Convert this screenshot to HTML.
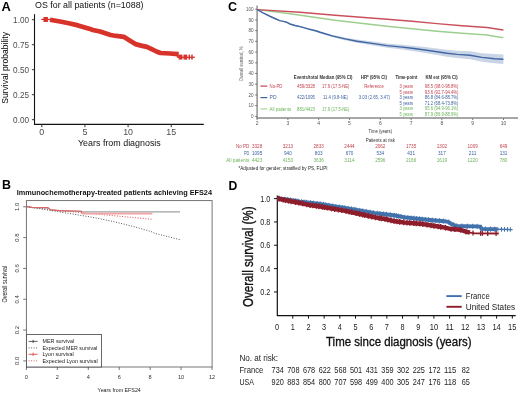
<!DOCTYPE html>
<html><head><meta charset="utf-8"><style>
html,body{margin:0;padding:0;background:#fff;}
body{width:520px;height:393px;overflow:hidden;}
svg{display:block;font-family:"Liberation Sans", sans-serif;will-change:transform;}
</style></head><body>
<svg width="520" height="393" viewBox="0 0 520 393">
<rect width="520" height="393" fill="#fff"/>
<g id="A">
<text x="1.60" y="10.80" font-size="12.9" fill="#000" font-weight="bold" >A</text>
<text x="35.10" y="7.90" font-size="8.9" fill="#111" textLength="108.40" lengthAdjust="spacingAndGlyphs" >OS for all patients (n=1088)</text>
<line x1="34.50" y1="14.20" x2="34.50" y2="124.90" stroke="#111" stroke-width="1.1" />
<line x1="34.00" y1="124.30" x2="203.80" y2="124.30" stroke="#111" stroke-width="1.2" />
<line x1="31.90" y1="19.70" x2="34.50" y2="19.70" stroke="#333" stroke-width="1" />
<text x="29.10" y="22.80" font-size="8.9" fill="#4d4d4d" text-anchor="end" textLength="16.00" lengthAdjust="spacingAndGlyphs" >1.00</text>
<line x1="31.90" y1="44.70" x2="34.50" y2="44.70" stroke="#333" stroke-width="1" />
<text x="29.10" y="47.80" font-size="8.9" fill="#4d4d4d" text-anchor="end" textLength="16.00" lengthAdjust="spacingAndGlyphs" >0.75</text>
<line x1="31.90" y1="69.70" x2="34.50" y2="69.70" stroke="#333" stroke-width="1" />
<text x="29.10" y="72.80" font-size="8.9" fill="#4d4d4d" text-anchor="end" textLength="16.00" lengthAdjust="spacingAndGlyphs" >0.50</text>
<line x1="31.90" y1="94.70" x2="34.50" y2="94.70" stroke="#333" stroke-width="1" />
<text x="29.10" y="97.80" font-size="8.9" fill="#4d4d4d" text-anchor="end" textLength="16.00" lengthAdjust="spacingAndGlyphs" >0.25</text>
<line x1="31.90" y1="119.70" x2="34.50" y2="119.70" stroke="#333" stroke-width="1" />
<text x="29.10" y="122.80" font-size="8.9" fill="#4d4d4d" text-anchor="end" textLength="16.00" lengthAdjust="spacingAndGlyphs" >0.00</text>
<line x1="41.80" y1="124.30" x2="41.80" y2="127.20" stroke="#333" stroke-width="1" />
<text x="41.80" y="135.40" font-size="8.9" fill="#4d4d4d" text-anchor="middle" >0</text>
<line x1="84.95" y1="124.30" x2="84.95" y2="127.20" stroke="#333" stroke-width="1" />
<text x="84.95" y="135.40" font-size="8.9" fill="#4d4d4d" text-anchor="middle" >5</text>
<line x1="128.10" y1="124.30" x2="128.10" y2="127.20" stroke="#333" stroke-width="1" />
<text x="128.10" y="135.40" font-size="8.9" fill="#4d4d4d" text-anchor="middle" >10</text>
<line x1="171.25" y1="124.30" x2="171.25" y2="127.20" stroke="#333" stroke-width="1" />
<text x="171.25" y="135.40" font-size="8.9" fill="#4d4d4d" text-anchor="middle" >15</text>
<text x="78.00" y="146.30" font-size="9.3" fill="#111" textLength="82.80" lengthAdjust="spacingAndGlyphs" >Years from diagnosis</text>
<text x="8.30" y="103.70" font-size="8.9" fill="#000" textLength="71.60" lengthAdjust="spacingAndGlyphs" transform="rotate(-90 8.30 103.70)" >Survival probability</text>
<polyline points="50.00,19.70 60.00,21.50 70.00,23.50 78.00,25.40 91.80,29.60 92.80,30.00 100.00,31.50 110.60,35.00 113.50,35.50 120.00,36.30 123.80,36.80 129.60,40.40 135.40,44.10 141.20,45.60 146.90,46.90 152.70,49.60 156.50,51.50 160.40,53.00 170.00,53.50 177.80,54.20" fill="none" stroke="#d8332b" stroke-width="4.7" stroke-linejoin="round"/>
<line x1="41.30" y1="19.40" x2="50.00" y2="19.40" stroke="#d8332b" stroke-width="1.3" />
<rect x="43.5" y="17.0" width="4.4" height="5.0" fill="#d8332b"/>
<line x1="177.80" y1="57.30" x2="194.80" y2="57.30" stroke="#d8332b" stroke-width="1.3" />
<rect x="176.8" y="51.8" width="2.0" height="5.8" fill="#d8332b"/>
<rect x="178.6" y="54.6" width="3.80" height="5.0" fill="#d8332b"/>
<rect x="183.5" y="54.6" width="3.70" height="5.0" fill="#d8332b"/>
<rect x="188.55" y="54.6" width="1.5" height="5.0" fill="#d8332b"/>
<rect x="191.25" y="54.6" width="1.5" height="5.0" fill="#d8332b"/>
</g>
<g id="C">
<text x="227.90" y="10.90" font-size="12.5" fill="#000" font-weight="bold" >C</text>
<line x1="257.10" y1="5.60" x2="257.10" y2="118.60" stroke="#8a8a8a" stroke-width="1.4" />
<line x1="256.40" y1="118.00" x2="518.00" y2="118.00" stroke="#8a8a8a" stroke-width="1.6" />
<line x1="255.20" y1="116.40" x2="257.00" y2="116.40" stroke="#555" stroke-width="0.8" />
<text x="253.60" y="118.00" font-size="4.6" fill="#555" text-anchor="end" >0</text>
<line x1="255.20" y1="105.68" x2="257.00" y2="105.68" stroke="#555" stroke-width="0.8" />
<text x="253.60" y="107.28" font-size="4.6" fill="#555" text-anchor="end" >10</text>
<line x1="255.20" y1="94.96" x2="257.00" y2="94.96" stroke="#555" stroke-width="0.8" />
<text x="253.60" y="96.56" font-size="4.6" fill="#555" text-anchor="end" >20</text>
<line x1="255.20" y1="84.24" x2="257.00" y2="84.24" stroke="#555" stroke-width="0.8" />
<text x="253.60" y="85.84" font-size="4.6" fill="#555" text-anchor="end" >30</text>
<line x1="255.20" y1="73.52" x2="257.00" y2="73.52" stroke="#555" stroke-width="0.8" />
<text x="253.60" y="75.12" font-size="4.6" fill="#555" text-anchor="end" >40</text>
<line x1="255.20" y1="62.80" x2="257.00" y2="62.80" stroke="#555" stroke-width="0.8" />
<text x="253.60" y="64.40" font-size="4.6" fill="#555" text-anchor="end" >50</text>
<line x1="255.20" y1="52.08" x2="257.00" y2="52.08" stroke="#555" stroke-width="0.8" />
<text x="253.60" y="53.68" font-size="4.6" fill="#555" text-anchor="end" >60</text>
<line x1="255.20" y1="41.36" x2="257.00" y2="41.36" stroke="#555" stroke-width="0.8" />
<text x="253.60" y="42.96" font-size="4.6" fill="#555" text-anchor="end" >70</text>
<line x1="255.20" y1="30.64" x2="257.00" y2="30.64" stroke="#555" stroke-width="0.8" />
<text x="253.60" y="32.24" font-size="4.6" fill="#555" text-anchor="end" >80</text>
<line x1="255.20" y1="19.92" x2="257.00" y2="19.92" stroke="#555" stroke-width="0.8" />
<text x="253.60" y="21.52" font-size="4.6" fill="#555" text-anchor="end" >90</text>
<line x1="255.20" y1="9.20" x2="257.00" y2="9.20" stroke="#555" stroke-width="0.8" />
<text x="253.60" y="10.80" font-size="4.6" fill="#555" text-anchor="end" >100</text>
<line x1="257.10" y1="118.60" x2="257.10" y2="119.80" stroke="#444" stroke-width="0.9" />
<text x="257.10" y="125.40" font-size="5.0" fill="#555" text-anchor="middle" >2</text>
<line x1="287.90" y1="118.60" x2="287.90" y2="119.80" stroke="#444" stroke-width="0.9" />
<text x="287.90" y="125.40" font-size="5.0" fill="#555" text-anchor="middle" >3</text>
<line x1="318.70" y1="118.60" x2="318.70" y2="119.80" stroke="#444" stroke-width="0.9" />
<text x="318.70" y="125.40" font-size="5.0" fill="#555" text-anchor="middle" >4</text>
<line x1="349.50" y1="118.60" x2="349.50" y2="119.80" stroke="#444" stroke-width="0.9" />
<text x="349.50" y="125.40" font-size="5.0" fill="#555" text-anchor="middle" >5</text>
<line x1="380.30" y1="118.60" x2="380.30" y2="119.80" stroke="#444" stroke-width="0.9" />
<text x="380.30" y="125.40" font-size="5.0" fill="#555" text-anchor="middle" >6</text>
<line x1="411.10" y1="118.60" x2="411.10" y2="119.80" stroke="#444" stroke-width="0.9" />
<text x="411.10" y="125.40" font-size="5.0" fill="#555" text-anchor="middle" >7</text>
<line x1="441.90" y1="118.60" x2="441.90" y2="119.80" stroke="#444" stroke-width="0.9" />
<text x="441.90" y="125.40" font-size="5.0" fill="#555" text-anchor="middle" >8</text>
<line x1="472.70" y1="118.60" x2="472.70" y2="119.80" stroke="#444" stroke-width="0.9" />
<text x="472.70" y="125.40" font-size="5.0" fill="#555" text-anchor="middle" >9</text>
<line x1="503.50" y1="118.60" x2="503.50" y2="119.80" stroke="#444" stroke-width="0.9" />
<text x="503.50" y="125.40" font-size="5.0" fill="#555" text-anchor="middle" >10</text>
<text x="242.90" y="63.80" font-size="5.6" fill="#555" text-anchor="middle" textLength="34.60" lengthAdjust="spacingAndGlyphs" transform="rotate(-90 242.90 63.80)" >Overall survival, %</text>
<text x="380.30" y="133.00" font-size="5.4" fill="#333" text-anchor="middle" textLength="23.50" lengthAdjust="spacingAndGlyphs" >Time (years)</text>
<text x="380.30" y="141.70" font-size="5.4" fill="#333" text-anchor="middle" textLength="29.20" lengthAdjust="spacingAndGlyphs" >Patients at risk</text>
<path d="M257.30,9.30 L263.00,12.48 L270.40,16.12 L276.00,18.58 L279.60,20.14 L283.50,20.90 L286.50,21.67 L290.00,23.43 L295.00,24.87 L301.20,26.19 L307.00,27.82 L316.50,30.08 L320.00,31.23 L332.00,34.75 L345.00,37.53 L357.00,39.62 L372.00,41.55 L387.00,43.46 L400.00,44.49 L412.00,45.64 L425.00,47.06 L437.00,48.49 L447.00,49.87 L457.00,50.73 L470.00,51.22 L482.00,53.13 L494.50,54.12 L503.40,54.39 L503.40,64.01 L494.50,63.28 L482.00,61.67 L470.00,59.18 L457.00,58.07 L447.00,56.73 L437.00,54.91 L425.00,52.94 L412.00,50.96 L400.00,49.31 L387.00,47.74 L372.00,45.25 L357.00,42.78 L345.00,40.27 L332.00,37.05 L320.00,33.17 L316.50,31.92 L307.00,29.38 L301.20,27.61 L295.00,26.13 L290.00,24.57 L286.50,22.73 L283.50,21.90 L279.60,21.06 L276.00,19.42 L270.40,16.88 L263.00,13.12 L257.30,9.90 Z" fill="#c9d5e6" stroke="none"/>
<polyline points="257.30,9.60 290.00,13.80 335.00,20.20 387.00,26.30 412.00,28.80 437.00,31.20 462.00,33.20 487.00,35.00 500.00,37.20 503.40,37.50" fill="none" stroke="#9ccf8d" stroke-width="1.45" />
<polyline points="257.30,9.60 300.00,12.30 335.00,15.30 387.00,19.30 412.00,21.30 437.00,23.60 462.00,25.70 487.00,27.50 500.00,29.50 503.40,30.00" fill="none" stroke="#c9505b" stroke-width="1.45" />
<polyline points="257.30,9.60 263.00,12.80 270.40,16.50 276.00,19.00 279.60,20.60 283.50,21.40 286.50,22.20 290.00,24.00 295.00,25.50 301.20,26.90 307.00,28.60 316.50,31.00 320.00,32.20 332.00,35.90 345.00,38.90 357.00,41.20 372.00,43.40 387.00,45.60 400.00,46.90 412.00,48.30 425.00,50.00 437.00,51.70 447.00,53.30 457.00,54.40 470.00,55.20 482.00,57.40 494.50,58.70 503.40,59.20" fill="none" stroke="#4166a2" stroke-width="1.45" />
<text x="293.80" y="79.40" font-size="4.7" fill="#333" font-weight="bold" textLength="24.20" lengthAdjust="spacingAndGlyphs" >Events/total</text>
<text x="319.50" y="79.40" font-size="4.7" fill="#333" font-weight="bold" textLength="33.00" lengthAdjust="spacingAndGlyphs" >Median (95% CI)</text>
<text x="360.80" y="79.40" font-size="4.7" fill="#333" font-weight="bold" textLength="26.20" lengthAdjust="spacingAndGlyphs" >HR* (95% CI)</text>
<text x="395.40" y="79.40" font-size="4.7" fill="#333" font-weight="bold" textLength="22.00" lengthAdjust="spacingAndGlyphs" >Time-point</text>
<text x="425.40" y="79.40" font-size="4.7" fill="#333" font-weight="bold" textLength="32.40" lengthAdjust="spacingAndGlyphs" >KM est (95% CI)</text>
<line x1="260.40" y1="86.10" x2="267.30" y2="86.10" stroke="#c1444f" stroke-width="1.2" />
<text x="269.60" y="87.70" font-size="4.7" fill="#c1444f" textLength="12.80" lengthAdjust="spacingAndGlyphs" >No-PD</text>
<text x="297.00" y="87.70" font-size="4.7" fill="#c1444f" textLength="18.00" lengthAdjust="spacingAndGlyphs" >459/3328</text>
<text x="322.00" y="87.70" font-size="4.7" fill="#c1444f" textLength="27.50" lengthAdjust="spacingAndGlyphs" >17.9 (17.5-NE)</text>
<text x="364.30" y="87.70" font-size="4.7" fill="#c1444f" textLength="19.50" lengthAdjust="spacingAndGlyphs" >Reference</text>
<text x="399.50" y="87.80" font-size="4.7" fill="#c1444f" textLength="13.60" lengthAdjust="spacingAndGlyphs" >3 years</text>
<text x="424.80" y="87.80" font-size="4.7" fill="#c1444f" textLength="33.70" lengthAdjust="spacingAndGlyphs" >98.5 (98.0-98.8%)</text>
<text x="399.50" y="93.60" font-size="4.7" fill="#c1444f" textLength="13.60" lengthAdjust="spacingAndGlyphs" >5 years</text>
<text x="424.80" y="93.60" font-size="4.7" fill="#c1444f" textLength="33.70" lengthAdjust="spacingAndGlyphs" >93.6 (92.7-94.4%)</text>
<line x1="260.40" y1="97.60" x2="267.30" y2="97.60" stroke="#3c64a0" stroke-width="1.2" />
<text x="269.60" y="99.20" font-size="4.7" fill="#3c64a0" textLength="6.90" lengthAdjust="spacingAndGlyphs" >PD</text>
<text x="297.00" y="99.20" font-size="4.7" fill="#3c64a0" textLength="18.00" lengthAdjust="spacingAndGlyphs" >422/1095</text>
<text x="323.00" y="99.20" font-size="4.7" fill="#3c64a0" textLength="25.00" lengthAdjust="spacingAndGlyphs" >11.4 (9.8-NE)</text>
<text x="358.80" y="99.20" font-size="4.7" fill="#3c64a0" textLength="31.20" lengthAdjust="spacingAndGlyphs" >3.03 (2.65, 3.47)</text>
<text x="399.50" y="99.30" font-size="4.7" fill="#3c64a0" textLength="13.60" lengthAdjust="spacingAndGlyphs" >3 years</text>
<text x="424.80" y="99.30" font-size="4.7" fill="#3c64a0" textLength="33.70" lengthAdjust="spacingAndGlyphs" >86.8 (84.6-88.7%)</text>
<text x="399.50" y="104.70" font-size="4.7" fill="#3c64a0" textLength="13.60" lengthAdjust="spacingAndGlyphs" >5 years</text>
<text x="424.80" y="104.70" font-size="4.7" fill="#3c64a0" textLength="33.70" lengthAdjust="spacingAndGlyphs" >71.2 (68.4-73.8%)</text>
<line x1="260.40" y1="108.90" x2="267.30" y2="108.90" stroke="#a8d898" stroke-width="1.2" />
<text x="269.60" y="110.50" font-size="4.7" fill="#6cb45a" textLength="21.60" lengthAdjust="spacingAndGlyphs" >All patients</text>
<text x="297.00" y="110.50" font-size="4.7" fill="#6cb45a" textLength="18.00" lengthAdjust="spacingAndGlyphs" >881/4423</text>
<text x="322.00" y="110.50" font-size="4.7" fill="#6cb45a" textLength="27.50" lengthAdjust="spacingAndGlyphs" >17.9 (17.5-NE)</text>
<text x="399.50" y="110.10" font-size="4.7" fill="#6cb45a" textLength="13.60" lengthAdjust="spacingAndGlyphs" >3 years</text>
<text x="424.80" y="110.10" font-size="4.7" fill="#6cb45a" textLength="33.70" lengthAdjust="spacingAndGlyphs" >95.6 (94.9-96.1%)</text>
<text x="399.50" y="115.90" font-size="4.7" fill="#6cb45a" textLength="13.60" lengthAdjust="spacingAndGlyphs" >5 years</text>
<text x="424.80" y="115.90" font-size="4.7" fill="#6cb45a" textLength="33.70" lengthAdjust="spacingAndGlyphs" >87.9 (86.9-88.9%)</text>
<text x="249.40" y="147.90" font-size="5.0" fill="#c1444f" text-anchor="end" textLength="13.40" lengthAdjust="spacingAndGlyphs" >No PD</text>
<text x="257.10" y="147.90" font-size="5.0" fill="#c1444f" text-anchor="middle" textLength="10.32" lengthAdjust="spacingAndGlyphs" >3328</text>
<text x="287.90" y="147.90" font-size="5.0" fill="#c1444f" text-anchor="middle" textLength="10.32" lengthAdjust="spacingAndGlyphs" >3213</text>
<text x="318.70" y="147.90" font-size="5.0" fill="#c1444f" text-anchor="middle" textLength="10.32" lengthAdjust="spacingAndGlyphs" >2833</text>
<text x="349.50" y="147.90" font-size="5.0" fill="#c1444f" text-anchor="middle" textLength="10.32" lengthAdjust="spacingAndGlyphs" >2444</text>
<text x="380.30" y="147.90" font-size="5.0" fill="#c1444f" text-anchor="middle" textLength="10.32" lengthAdjust="spacingAndGlyphs" >2062</text>
<text x="411.10" y="147.90" font-size="5.0" fill="#c1444f" text-anchor="middle" textLength="10.32" lengthAdjust="spacingAndGlyphs" >1735</text>
<text x="441.90" y="147.90" font-size="5.0" fill="#c1444f" text-anchor="middle" textLength="10.32" lengthAdjust="spacingAndGlyphs" >1302</text>
<text x="472.70" y="147.90" font-size="5.0" fill="#c1444f" text-anchor="middle" textLength="10.32" lengthAdjust="spacingAndGlyphs" >1009</text>
<text x="503.50" y="147.90" font-size="5.0" fill="#c1444f" text-anchor="middle" textLength="7.74" lengthAdjust="spacingAndGlyphs" >649</text>
<text x="249.40" y="155.00" font-size="5.0" fill="#3c64a0" text-anchor="end" textLength="5.40" lengthAdjust="spacingAndGlyphs" >PD</text>
<text x="257.10" y="155.00" font-size="5.0" fill="#3c64a0" text-anchor="middle" textLength="10.32" lengthAdjust="spacingAndGlyphs" >1095</text>
<text x="287.90" y="155.00" font-size="5.0" fill="#3c64a0" text-anchor="middle" textLength="7.74" lengthAdjust="spacingAndGlyphs" >940</text>
<text x="318.70" y="155.00" font-size="5.0" fill="#3c64a0" text-anchor="middle" textLength="7.74" lengthAdjust="spacingAndGlyphs" >803</text>
<text x="349.50" y="155.00" font-size="5.0" fill="#3c64a0" text-anchor="middle" textLength="7.74" lengthAdjust="spacingAndGlyphs" >670</text>
<text x="380.30" y="155.00" font-size="5.0" fill="#3c64a0" text-anchor="middle" textLength="7.74" lengthAdjust="spacingAndGlyphs" >534</text>
<text x="411.10" y="155.00" font-size="5.0" fill="#3c64a0" text-anchor="middle" textLength="7.74" lengthAdjust="spacingAndGlyphs" >431</text>
<text x="441.90" y="155.00" font-size="5.0" fill="#3c64a0" text-anchor="middle" textLength="7.74" lengthAdjust="spacingAndGlyphs" >317</text>
<text x="472.70" y="155.00" font-size="5.0" fill="#3c64a0" text-anchor="middle" textLength="7.74" lengthAdjust="spacingAndGlyphs" >211</text>
<text x="503.50" y="155.00" font-size="5.0" fill="#3c64a0" text-anchor="middle" textLength="7.74" lengthAdjust="spacingAndGlyphs" >131</text>
<text x="249.40" y="161.90" font-size="5.0" fill="#6cb45a" text-anchor="end" textLength="23.20" lengthAdjust="spacingAndGlyphs" >All patients</text>
<text x="257.10" y="161.90" font-size="5.0" fill="#6cb45a" text-anchor="middle" textLength="10.32" lengthAdjust="spacingAndGlyphs" >4423</text>
<text x="287.90" y="161.90" font-size="5.0" fill="#6cb45a" text-anchor="middle" textLength="10.32" lengthAdjust="spacingAndGlyphs" >4153</text>
<text x="318.70" y="161.90" font-size="5.0" fill="#6cb45a" text-anchor="middle" textLength="10.32" lengthAdjust="spacingAndGlyphs" >3636</text>
<text x="349.50" y="161.90" font-size="5.0" fill="#6cb45a" text-anchor="middle" textLength="10.32" lengthAdjust="spacingAndGlyphs" >3114</text>
<text x="380.30" y="161.90" font-size="5.0" fill="#6cb45a" text-anchor="middle" textLength="10.32" lengthAdjust="spacingAndGlyphs" >2596</text>
<text x="411.10" y="161.90" font-size="5.0" fill="#6cb45a" text-anchor="middle" textLength="10.32" lengthAdjust="spacingAndGlyphs" >2166</text>
<text x="441.90" y="161.90" font-size="5.0" fill="#6cb45a" text-anchor="middle" textLength="10.32" lengthAdjust="spacingAndGlyphs" >1619</text>
<text x="472.70" y="161.90" font-size="5.0" fill="#6cb45a" text-anchor="middle" textLength="10.32" lengthAdjust="spacingAndGlyphs" >1220</text>
<text x="503.50" y="161.90" font-size="5.0" fill="#6cb45a" text-anchor="middle" textLength="7.74" lengthAdjust="spacingAndGlyphs" >780</text>
<text x="238.50" y="169.60" font-size="5.0" fill="#222" textLength="89.10" lengthAdjust="spacingAndGlyphs" >*Adjusted for gender; stratified by PS, FLIPI</text>
</g>
<g id="B">
<text x="2.10" y="189.10" font-size="12.4" fill="#000" font-weight="bold" >B</text>
<text x="16.70" y="194.60" font-size="7.3" fill="#111" font-weight="bold" textLength="195.30" lengthAdjust="spacingAndGlyphs" >Immunochemotherapy-treated patients achieving EFS24</text>
<rect x="26.4" y="200.6" width="185.7" height="166.4" fill="none" stroke="#666" stroke-width="0.9"/>
<line x1="23.20" y1="360.90" x2="26.40" y2="360.90" stroke="#555" stroke-width="0.8" />
<text x="18.90" y="360.90" font-size="6.0" fill="#333" text-anchor="middle" transform="rotate(-90 18.90 360.90)" >0.0</text>
<line x1="23.20" y1="330.08" x2="26.40" y2="330.08" stroke="#555" stroke-width="0.8" />
<text x="18.90" y="330.08" font-size="6.0" fill="#333" text-anchor="middle" transform="rotate(-90 18.90 330.08)" >0.2</text>
<line x1="23.20" y1="299.26" x2="26.40" y2="299.26" stroke="#555" stroke-width="0.8" />
<text x="18.90" y="299.26" font-size="6.0" fill="#333" text-anchor="middle" transform="rotate(-90 18.90 299.26)" >0.4</text>
<line x1="23.20" y1="268.44" x2="26.40" y2="268.44" stroke="#555" stroke-width="0.8" />
<text x="18.90" y="268.44" font-size="6.0" fill="#333" text-anchor="middle" transform="rotate(-90 18.90 268.44)" >0.6</text>
<line x1="23.20" y1="237.62" x2="26.40" y2="237.62" stroke="#555" stroke-width="0.8" />
<text x="18.90" y="237.62" font-size="6.0" fill="#333" text-anchor="middle" transform="rotate(-90 18.90 237.62)" >0.8</text>
<line x1="23.20" y1="206.80" x2="26.40" y2="206.80" stroke="#555" stroke-width="0.8" />
<text x="18.90" y="206.80" font-size="6.0" fill="#333" text-anchor="middle" transform="rotate(-90 18.90 206.80)" >1.0</text>
<line x1="26.40" y1="367.00" x2="26.40" y2="370.00" stroke="#555" stroke-width="0.8" />
<text x="26.40" y="379.00" font-size="5.6" fill="#333" text-anchor="middle" >0</text>
<line x1="57.34" y1="367.00" x2="57.34" y2="370.00" stroke="#555" stroke-width="0.8" />
<text x="57.34" y="379.00" font-size="5.6" fill="#333" text-anchor="middle" >2</text>
<line x1="88.28" y1="367.00" x2="88.28" y2="370.00" stroke="#555" stroke-width="0.8" />
<text x="88.28" y="379.00" font-size="5.6" fill="#333" text-anchor="middle" >4</text>
<line x1="119.22" y1="367.00" x2="119.22" y2="370.00" stroke="#555" stroke-width="0.8" />
<text x="119.22" y="379.00" font-size="5.6" fill="#333" text-anchor="middle" >6</text>
<line x1="150.16" y1="367.00" x2="150.16" y2="370.00" stroke="#555" stroke-width="0.8" />
<text x="150.16" y="379.00" font-size="5.6" fill="#333" text-anchor="middle" >8</text>
<line x1="181.10" y1="367.00" x2="181.10" y2="370.00" stroke="#555" stroke-width="0.8" />
<text x="181.10" y="379.00" font-size="5.6" fill="#333" text-anchor="middle" >10</text>
<line x1="212.04" y1="367.00" x2="212.04" y2="370.00" stroke="#555" stroke-width="0.8" />
<text x="212.04" y="379.00" font-size="5.6" fill="#333" text-anchor="middle" >12</text>
<text x="119.20" y="391.90" font-size="6.0" fill="#222" text-anchor="middle" textLength="43.20" lengthAdjust="spacingAndGlyphs" >Years from EFS24</text>
<text x="7.00" y="284.10" font-size="6.4" fill="#222" text-anchor="middle" textLength="36.80" lengthAdjust="spacingAndGlyphs" transform="rotate(-90 7.00 284.10)" >Overall survival</text>
<polyline points="26.40,206.60 60.00,210.80 100.00,214.40 152.30,219.30" fill="none" stroke="#e04040" stroke-width="0.9" stroke-dasharray="1,1.6"/>
<polyline points="26.40,206.60 62.00,212.30 92.00,217.20 110.00,220.80 130.00,225.60 151.20,231.60 155.40,233.50 179.70,239.60" fill="none" stroke="#444" stroke-width="0.9" stroke-dasharray="1,1.6"/>
<polyline points="26.40,206.60 32.00,207.70 48.00,208.10 50.00,209.90 60.00,210.80 75.00,211.20 81.50,211.30 82.00,211.90" fill="none" stroke="#777" stroke-width="0.8" />
<polyline points="82.00,211.90 180.00,211.90" fill="none" stroke="#a0a0a0" stroke-width="1.2" />
<polyline points="26.40,206.40 32.00,207.30 48.00,207.50 50.50,209.80 60.00,210.60 75.00,211.00 81.50,211.20 82.00,213.60" fill="none" stroke="#e26060" stroke-width="1.1" />
<polyline points="82.00,213.60 152.30,213.60" fill="none" stroke="#f2a3a3" stroke-width="1.7" />
<rect x="26.4" y="334.6" width="75.2" height="32.4" fill="#fff" stroke="#444" stroke-width="0.8"/>
<line x1="28.60" y1="341.40" x2="37.60" y2="341.40" stroke="#333" stroke-width="0.8" />
<line x1="33.10" y1="339.80" x2="33.10" y2="343.00" stroke="#333" stroke-width="0.8" />
<text x="42.50" y="343.40" font-size="5.6" fill="#222" textLength="31.60" lengthAdjust="spacingAndGlyphs" >MER survival</text>
<line x1="28.60" y1="347.90" x2="37.60" y2="347.90" stroke="#333" stroke-width="0.8" stroke-dasharray="1,1.5"/>
<text x="42.50" y="349.90" font-size="5.6" fill="#222" textLength="54.80" lengthAdjust="spacingAndGlyphs" >Expected MER survival</text>
<line x1="28.60" y1="354.30" x2="37.60" y2="354.30" stroke="#e03030" stroke-width="0.8" />
<line x1="33.10" y1="352.70" x2="33.10" y2="355.90" stroke="#e03030" stroke-width="0.8" />
<text x="42.50" y="356.30" font-size="5.6" fill="#222" textLength="31.20" lengthAdjust="spacingAndGlyphs" >Lyon survival</text>
<line x1="28.60" y1="360.80" x2="37.60" y2="360.80" stroke="#e03030" stroke-width="0.8" stroke-dasharray="1,1.5"/>
<text x="42.50" y="362.80" font-size="5.6" fill="#222" textLength="55.20" lengthAdjust="spacingAndGlyphs" >Expected Lyon survival</text>
</g>
<g id="D">
<text x="228.40" y="189.50" font-size="12.2" fill="#000" font-weight="bold" >D</text>
<line x1="277.30" y1="195.40" x2="277.30" y2="316.00" stroke="#111" stroke-width="1.2" />
<line x1="277.00" y1="315.60" x2="515.70" y2="315.60" stroke="#111" stroke-width="1.2" />
<line x1="274.00" y1="291.96" x2="277.30" y2="291.96" stroke="#111" stroke-width="1.0" />
<text x="270.40" y="294.86" font-size="8.4" fill="#222" text-anchor="end" textLength="10.10" lengthAdjust="spacingAndGlyphs" >0.2</text>
<line x1="274.00" y1="268.62" x2="277.30" y2="268.62" stroke="#111" stroke-width="1.0" />
<text x="270.40" y="271.52" font-size="8.4" fill="#222" text-anchor="end" textLength="10.10" lengthAdjust="spacingAndGlyphs" >0.4</text>
<line x1="274.00" y1="245.28" x2="277.30" y2="245.28" stroke="#111" stroke-width="1.0" />
<text x="270.40" y="248.18" font-size="8.4" fill="#222" text-anchor="end" textLength="10.10" lengthAdjust="spacingAndGlyphs" >0.6</text>
<line x1="274.00" y1="221.94" x2="277.30" y2="221.94" stroke="#111" stroke-width="1.0" />
<text x="270.40" y="224.84" font-size="8.4" fill="#222" text-anchor="end" textLength="10.10" lengthAdjust="spacingAndGlyphs" >0.8</text>
<line x1="274.00" y1="198.60" x2="277.30" y2="198.60" stroke="#111" stroke-width="1.0" />
<text x="270.40" y="201.50" font-size="8.4" fill="#222" text-anchor="end" textLength="10.10" lengthAdjust="spacingAndGlyphs" >1.0</text>
<text x="277.10" y="329.70" font-size="8.2" fill="#222" text-anchor="middle" textLength="4.10" lengthAdjust="spacingAndGlyphs" >0</text>
<line x1="292.78" y1="315.40" x2="292.78" y2="318.60" stroke="#111" stroke-width="1.0" />
<text x="292.78" y="329.70" font-size="8.2" fill="#222" text-anchor="middle" textLength="4.10" lengthAdjust="spacingAndGlyphs" >1</text>
<line x1="308.46" y1="315.40" x2="308.46" y2="318.60" stroke="#111" stroke-width="1.0" />
<text x="308.46" y="329.70" font-size="8.2" fill="#222" text-anchor="middle" textLength="4.10" lengthAdjust="spacingAndGlyphs" >2</text>
<line x1="324.14" y1="315.40" x2="324.14" y2="318.60" stroke="#111" stroke-width="1.0" />
<text x="324.14" y="329.70" font-size="8.2" fill="#222" text-anchor="middle" textLength="4.10" lengthAdjust="spacingAndGlyphs" >3</text>
<line x1="339.82" y1="315.40" x2="339.82" y2="318.60" stroke="#111" stroke-width="1.0" />
<text x="339.82" y="329.70" font-size="8.2" fill="#222" text-anchor="middle" textLength="4.10" lengthAdjust="spacingAndGlyphs" >4</text>
<line x1="355.50" y1="315.40" x2="355.50" y2="318.60" stroke="#111" stroke-width="1.0" />
<text x="355.50" y="329.70" font-size="8.2" fill="#222" text-anchor="middle" textLength="4.10" lengthAdjust="spacingAndGlyphs" >5</text>
<line x1="371.18" y1="315.40" x2="371.18" y2="318.60" stroke="#111" stroke-width="1.0" />
<text x="371.18" y="329.70" font-size="8.2" fill="#222" text-anchor="middle" textLength="4.10" lengthAdjust="spacingAndGlyphs" >6</text>
<line x1="386.86" y1="315.40" x2="386.86" y2="318.60" stroke="#111" stroke-width="1.0" />
<text x="386.86" y="329.70" font-size="8.2" fill="#222" text-anchor="middle" textLength="4.10" lengthAdjust="spacingAndGlyphs" >7</text>
<line x1="402.54" y1="315.40" x2="402.54" y2="318.60" stroke="#111" stroke-width="1.0" />
<text x="402.54" y="329.70" font-size="8.2" fill="#222" text-anchor="middle" textLength="4.10" lengthAdjust="spacingAndGlyphs" >8</text>
<line x1="418.22" y1="315.40" x2="418.22" y2="318.60" stroke="#111" stroke-width="1.0" />
<text x="418.22" y="329.70" font-size="8.2" fill="#222" text-anchor="middle" textLength="4.10" lengthAdjust="spacingAndGlyphs" >9</text>
<line x1="433.90" y1="315.40" x2="433.90" y2="318.60" stroke="#111" stroke-width="1.0" />
<text x="433.90" y="329.70" font-size="8.2" fill="#222" text-anchor="middle" textLength="8.40" lengthAdjust="spacingAndGlyphs" >10</text>
<line x1="449.58" y1="315.40" x2="449.58" y2="318.60" stroke="#111" stroke-width="1.0" />
<text x="449.58" y="329.70" font-size="8.2" fill="#222" text-anchor="middle" textLength="8.40" lengthAdjust="spacingAndGlyphs" >11</text>
<line x1="465.26" y1="315.40" x2="465.26" y2="318.60" stroke="#111" stroke-width="1.0" />
<text x="465.26" y="329.70" font-size="8.2" fill="#222" text-anchor="middle" textLength="8.40" lengthAdjust="spacingAndGlyphs" >12</text>
<line x1="480.94" y1="315.40" x2="480.94" y2="318.60" stroke="#111" stroke-width="1.0" />
<text x="480.94" y="329.70" font-size="8.2" fill="#222" text-anchor="middle" textLength="8.40" lengthAdjust="spacingAndGlyphs" >13</text>
<line x1="496.62" y1="315.40" x2="496.62" y2="318.60" stroke="#111" stroke-width="1.0" />
<text x="496.62" y="329.70" font-size="8.2" fill="#222" text-anchor="middle" textLength="8.40" lengthAdjust="spacingAndGlyphs" >14</text>
<line x1="512.30" y1="315.40" x2="512.30" y2="318.60" stroke="#111" stroke-width="1.0" />
<text x="512.30" y="329.70" font-size="8.2" fill="#222" text-anchor="middle" textLength="8.40" lengthAdjust="spacingAndGlyphs" >15</text>
<text x="326.00" y="346.20" font-size="13.3" fill="#111" textLength="145.50" lengthAdjust="spacingAndGlyphs" stroke="#111" stroke-width="0.35">Time since diagnosis (years)</text>
<text x="252.90" y="307.00" font-size="14.6" fill="#111" textLength="100.50" lengthAdjust="spacingAndGlyphs" transform="rotate(-90 252.90 307.00)" stroke="#111" stroke-width="0.35">Overall survival (%)</text>
<polyline points="277.50,198.50 290.00,200.00 300.00,201.60 310.00,202.80 320.00,203.90 335.00,206.50 345.00,208.00 355.00,209.60 375.00,213.10 385.00,214.20 395.00,215.50 405.00,217.40 420.00,219.00 435.00,220.50 445.00,221.30 449.00,222.20 452.00,224.40 456.00,225.90 465.00,226.20 475.00,226.40 480.30,226.60 481.50,228.90 497.00,229.30" fill="none" stroke="#4272ab" stroke-width="3.9" />
<polyline points="497.00,229.30 512.60,229.50" fill="none" stroke="#4272ab" stroke-width="1.6" />
<line x1="279.00" y1="196.08" x2="279.00" y2="201.28" stroke="#4272ab" stroke-width="1.0" />
<line x1="281.48" y1="196.38" x2="281.48" y2="201.58" stroke="#4272ab" stroke-width="1.0" />
<line x1="284.56" y1="196.75" x2="284.56" y2="201.95" stroke="#4272ab" stroke-width="1.0" />
<line x1="287.30" y1="197.08" x2="287.30" y2="202.28" stroke="#4272ab" stroke-width="1.0" />
<line x1="290.51" y1="197.48" x2="290.51" y2="202.68" stroke="#4272ab" stroke-width="1.0" />
<line x1="293.76" y1="198.00" x2="293.76" y2="203.20" stroke="#4272ab" stroke-width="1.0" />
<line x1="295.89" y1="198.34" x2="295.89" y2="203.54" stroke="#4272ab" stroke-width="1.0" />
<line x1="297.92" y1="198.67" x2="297.92" y2="203.87" stroke="#4272ab" stroke-width="1.0" />
<line x1="301.60" y1="199.19" x2="301.60" y2="204.39" stroke="#4272ab" stroke-width="1.0" />
<line x1="304.11" y1="199.49" x2="304.11" y2="204.69" stroke="#4272ab" stroke-width="1.0" />
<line x1="306.58" y1="199.79" x2="306.58" y2="204.99" stroke="#4272ab" stroke-width="1.0" />
<line x1="310.57" y1="200.26" x2="310.57" y2="205.46" stroke="#4272ab" stroke-width="1.0" />
<line x1="313.52" y1="200.59" x2="313.52" y2="205.79" stroke="#4272ab" stroke-width="1.0" />
<line x1="317.19" y1="200.99" x2="317.19" y2="206.19" stroke="#4272ab" stroke-width="1.0" />
<line x1="320.14" y1="201.32" x2="320.14" y2="206.52" stroke="#4272ab" stroke-width="1.0" />
<line x1="323.42" y1="201.89" x2="323.42" y2="207.09" stroke="#4272ab" stroke-width="1.0" />
<line x1="325.72" y1="202.29" x2="325.72" y2="207.49" stroke="#4272ab" stroke-width="1.0" />
<line x1="328.99" y1="202.86" x2="328.99" y2="208.06" stroke="#4272ab" stroke-width="1.0" />
<line x1="332.73" y1="203.51" x2="332.73" y2="208.71" stroke="#4272ab" stroke-width="1.0" />
<line x1="335.77" y1="204.02" x2="335.77" y2="209.22" stroke="#4272ab" stroke-width="1.0" />
<line x1="339.25" y1="204.54" x2="339.25" y2="209.74" stroke="#4272ab" stroke-width="1.0" />
<line x1="342.60" y1="205.04" x2="342.60" y2="210.24" stroke="#4272ab" stroke-width="1.0" />
<line x1="344.73" y1="205.36" x2="344.73" y2="210.56" stroke="#4272ab" stroke-width="1.0" />
<line x1="348.24" y1="205.92" x2="348.24" y2="211.12" stroke="#4272ab" stroke-width="1.0" />
<line x1="351.42" y1="206.43" x2="351.42" y2="211.63" stroke="#4272ab" stroke-width="1.0" />
<line x1="354.03" y1="206.84" x2="354.03" y2="212.04" stroke="#4272ab" stroke-width="1.0" />
<line x1="356.09" y1="207.19" x2="356.09" y2="212.39" stroke="#4272ab" stroke-width="1.0" />
<line x1="359.82" y1="207.84" x2="359.82" y2="213.04" stroke="#4272ab" stroke-width="1.0" />
<line x1="362.77" y1="208.36" x2="362.77" y2="213.56" stroke="#4272ab" stroke-width="1.0" />
<line x1="366.20" y1="208.96" x2="366.20" y2="214.16" stroke="#4272ab" stroke-width="1.0" />
<line x1="369.96" y1="209.62" x2="369.96" y2="214.82" stroke="#4272ab" stroke-width="1.0" />
<line x1="373.39" y1="210.22" x2="373.39" y2="215.42" stroke="#4272ab" stroke-width="1.0" />
<line x1="377.23" y1="210.75" x2="377.23" y2="215.95" stroke="#4272ab" stroke-width="1.0" />
<line x1="380.02" y1="211.05" x2="380.02" y2="216.25" stroke="#4272ab" stroke-width="1.0" />
<line x1="383.62" y1="211.45" x2="383.62" y2="216.65" stroke="#4272ab" stroke-width="1.0" />
<line x1="386.51" y1="211.80" x2="386.51" y2="217.00" stroke="#4272ab" stroke-width="1.0" />
<line x1="390.38" y1="212.30" x2="390.38" y2="217.50" stroke="#4272ab" stroke-width="1.0" />
<line x1="394.14" y1="212.79" x2="394.14" y2="217.99" stroke="#4272ab" stroke-width="1.0" />
<line x1="396.34" y1="213.15" x2="396.34" y2="218.35" stroke="#4272ab" stroke-width="1.0" />
<line x1="398.61" y1="213.59" x2="398.61" y2="218.79" stroke="#4272ab" stroke-width="1.0" />
<line x1="401.04" y1="214.05" x2="401.04" y2="219.25" stroke="#4272ab" stroke-width="1.0" />
<line x1="404.97" y1="214.79" x2="404.97" y2="219.99" stroke="#4272ab" stroke-width="1.0" />
<line x1="407.85" y1="215.10" x2="407.85" y2="220.30" stroke="#4272ab" stroke-width="1.0" />
<line x1="411.10" y1="215.45" x2="411.10" y2="220.65" stroke="#4272ab" stroke-width="1.0" />
<line x1="413.70" y1="215.73" x2="413.70" y2="220.93" stroke="#4272ab" stroke-width="1.0" />
<line x1="416.71" y1="216.05" x2="416.71" y2="221.25" stroke="#4272ab" stroke-width="1.0" />
<line x1="419.49" y1="216.35" x2="419.49" y2="221.55" stroke="#4272ab" stroke-width="1.0" />
<line x1="422.19" y1="216.62" x2="422.19" y2="221.82" stroke="#4272ab" stroke-width="1.0" />
<line x1="425.36" y1="216.94" x2="425.36" y2="222.14" stroke="#4272ab" stroke-width="1.0" />
<line x1="428.53" y1="217.25" x2="428.53" y2="222.45" stroke="#4272ab" stroke-width="1.0" />
<line x1="432.34" y1="217.63" x2="432.34" y2="222.83" stroke="#4272ab" stroke-width="1.0" />
<line x1="435.70" y1="217.96" x2="435.70" y2="223.16" stroke="#4272ab" stroke-width="1.0" />
<line x1="439.56" y1="218.26" x2="439.56" y2="223.46" stroke="#4272ab" stroke-width="1.0" />
<line x1="443.27" y1="218.56" x2="443.27" y2="223.76" stroke="#4272ab" stroke-width="1.0" />
<line x1="448.75" y1="219.54" x2="448.75" y2="224.74" stroke="#4272ab" stroke-width="1.0" />
<line x1="453.43" y1="222.33" x2="453.43" y2="227.53" stroke="#4272ab" stroke-width="1.0" />
<line x1="456.83" y1="223.33" x2="456.83" y2="228.53" stroke="#4272ab" stroke-width="1.0" />
<line x1="461.99" y1="223.50" x2="461.99" y2="228.70" stroke="#4272ab" stroke-width="1.0" />
<line x1="467.40" y1="223.65" x2="467.40" y2="228.85" stroke="#4272ab" stroke-width="1.0" />
<line x1="472.66" y1="223.75" x2="472.66" y2="228.95" stroke="#4272ab" stroke-width="1.0" />
<line x1="477.08" y1="223.88" x2="477.08" y2="229.08" stroke="#4272ab" stroke-width="1.0" />
<line x1="481.87" y1="226.31" x2="481.87" y2="231.51" stroke="#4272ab" stroke-width="1.0" />
<line x1="485.39" y1="226.40" x2="485.39" y2="231.60" stroke="#4272ab" stroke-width="1.0" />
<line x1="490.47" y1="226.53" x2="490.47" y2="231.73" stroke="#4272ab" stroke-width="1.0" />
<line x1="494.91" y1="226.65" x2="494.91" y2="231.85" stroke="#4272ab" stroke-width="1.0" />
<line x1="497.80" y1="227.01" x2="497.80" y2="231.61" stroke="#4272ab" stroke-width="1.0" />
<line x1="501.50" y1="227.06" x2="501.50" y2="231.66" stroke="#4272ab" stroke-width="1.0" />
<line x1="504.50" y1="227.10" x2="504.50" y2="231.70" stroke="#4272ab" stroke-width="1.0" />
<line x1="507.50" y1="227.13" x2="507.50" y2="231.73" stroke="#4272ab" stroke-width="1.0" />
<line x1="510.30" y1="227.17" x2="510.30" y2="231.77" stroke="#4272ab" stroke-width="1.0" />
<polyline points="277.50,198.50 290.00,201.20 300.00,203.00 310.00,205.10 320.00,206.50 335.00,209.20 345.00,210.80 355.00,213.00 375.00,217.40 385.00,219.00 395.00,221.30 405.00,222.60 420.00,223.70 435.00,226.00 445.00,227.70 450.00,228.90 460.00,229.70 465.00,231.40 470.00,232.60" fill="none" stroke="#8e1e2c" stroke-width="4.4" />
<polyline points="465.00,231.40 470.00,232.60 475.00,233.30 498.80,233.50" fill="none" stroke="#8e1e2c" stroke-width="1.8" />
<line x1="279.00" y1="195.76" x2="279.00" y2="201.62" stroke="#8e1e2c" stroke-width="1.3" />
<line x1="283.13" y1="197.21" x2="283.13" y2="202.52" stroke="#8e1e2c" stroke-width="1.3" />
<line x1="285.36" y1="197.58" x2="285.36" y2="203.00" stroke="#8e1e2c" stroke-width="1.3" />
<line x1="288.38" y1="197.84" x2="288.38" y2="203.65" stroke="#8e1e2c" stroke-width="1.3" />
<line x1="291.12" y1="198.76" x2="291.12" y2="204.20" stroke="#8e1e2c" stroke-width="1.3" />
<line x1="295.30" y1="199.08" x2="295.30" y2="204.95" stroke="#8e1e2c" stroke-width="1.3" />
<line x1="298.84" y1="199.72" x2="298.84" y2="205.59" stroke="#8e1e2c" stroke-width="1.3" />
<line x1="302.63" y1="200.65" x2="302.63" y2="206.35" stroke="#8e1e2c" stroke-width="1.3" />
<line x1="306.83" y1="201.92" x2="306.83" y2="207.24" stroke="#8e1e2c" stroke-width="1.3" />
<line x1="310.10" y1="202.61" x2="310.10" y2="207.91" stroke="#8e1e2c" stroke-width="1.3" />
<line x1="312.87" y1="202.45" x2="312.87" y2="208.30" stroke="#8e1e2c" stroke-width="1.3" />
<line x1="316.37" y1="202.91" x2="316.37" y2="208.79" stroke="#8e1e2c" stroke-width="1.3" />
<line x1="318.86" y1="203.49" x2="318.86" y2="209.14" stroke="#8e1e2c" stroke-width="1.3" />
<line x1="322.39" y1="203.92" x2="322.39" y2="209.73" stroke="#8e1e2c" stroke-width="1.3" />
<line x1="324.50" y1="204.73" x2="324.50" y2="210.11" stroke="#8e1e2c" stroke-width="1.3" />
<line x1="327.28" y1="205.29" x2="327.28" y2="210.61" stroke="#8e1e2c" stroke-width="1.3" />
<line x1="331.52" y1="205.70" x2="331.52" y2="211.37" stroke="#8e1e2c" stroke-width="1.3" />
<line x1="334.67" y1="206.35" x2="334.67" y2="211.94" stroke="#8e1e2c" stroke-width="1.3" />
<line x1="338.28" y1="206.98" x2="338.28" y2="212.53" stroke="#8e1e2c" stroke-width="1.3" />
<line x1="341.68" y1="207.54" x2="341.68" y2="213.07" stroke="#8e1e2c" stroke-width="1.3" />
<line x1="346.03" y1="208.23" x2="346.03" y2="213.83" stroke="#8e1e2c" stroke-width="1.3" />
<line x1="349.11" y1="209.04" x2="349.11" y2="214.50" stroke="#8e1e2c" stroke-width="1.3" />
<line x1="351.71" y1="209.36" x2="351.71" y2="215.08" stroke="#8e1e2c" stroke-width="1.3" />
<line x1="356.15" y1="210.47" x2="356.15" y2="216.05" stroke="#8e1e2c" stroke-width="1.3" />
<line x1="359.52" y1="210.90" x2="359.52" y2="216.79" stroke="#8e1e2c" stroke-width="1.3" />
<line x1="362.56" y1="211.91" x2="362.56" y2="217.46" stroke="#8e1e2c" stroke-width="1.3" />
<line x1="364.61" y1="212.38" x2="364.61" y2="217.91" stroke="#8e1e2c" stroke-width="1.3" />
<line x1="368.19" y1="212.84" x2="368.19" y2="218.70" stroke="#8e1e2c" stroke-width="1.3" />
<line x1="371.76" y1="213.87" x2="371.76" y2="219.49" stroke="#8e1e2c" stroke-width="1.3" />
<line x1="375.46" y1="214.58" x2="375.46" y2="220.27" stroke="#8e1e2c" stroke-width="1.3" />
<line x1="379.22" y1="215.42" x2="379.22" y2="220.88" stroke="#8e1e2c" stroke-width="1.3" />
<line x1="381.28" y1="215.34" x2="381.28" y2="221.20" stroke="#8e1e2c" stroke-width="1.3" />
<line x1="384.97" y1="216.47" x2="384.97" y2="221.80" stroke="#8e1e2c" stroke-width="1.3" />
<line x1="387.60" y1="216.77" x2="387.60" y2="222.40" stroke="#8e1e2c" stroke-width="1.3" />
<line x1="391.08" y1="217.49" x2="391.08" y2="223.20" stroke="#8e1e2c" stroke-width="1.3" />
<line x1="393.99" y1="218.15" x2="393.99" y2="223.87" stroke="#8e1e2c" stroke-width="1.3" />
<line x1="396.91" y1="218.81" x2="396.91" y2="224.35" stroke="#8e1e2c" stroke-width="1.3" />
<line x1="399.66" y1="219.03" x2="399.66" y2="224.71" stroke="#8e1e2c" stroke-width="1.3" />
<line x1="403.59" y1="219.33" x2="403.59" y2="225.22" stroke="#8e1e2c" stroke-width="1.3" />
<line x1="407.02" y1="220.09" x2="407.02" y2="225.55" stroke="#8e1e2c" stroke-width="1.3" />
<line x1="409.79" y1="219.98" x2="409.79" y2="225.75" stroke="#8e1e2c" stroke-width="1.3" />
<line x1="413.80" y1="220.29" x2="413.80" y2="226.05" stroke="#8e1e2c" stroke-width="1.3" />
<line x1="416.27" y1="220.59" x2="416.27" y2="226.23" stroke="#8e1e2c" stroke-width="1.3" />
<line x1="420.01" y1="220.66" x2="420.01" y2="226.50" stroke="#8e1e2c" stroke-width="1.3" />
<line x1="422.82" y1="221.23" x2="422.82" y2="226.93" stroke="#8e1e2c" stroke-width="1.3" />
<line x1="426.90" y1="221.92" x2="426.90" y2="227.56" stroke="#8e1e2c" stroke-width="1.3" />
<line x1="431.04" y1="222.39" x2="431.04" y2="228.19" stroke="#8e1e2c" stroke-width="1.3" />
<line x1="433.88" y1="223.12" x2="433.88" y2="228.63" stroke="#8e1e2c" stroke-width="1.3" />
<line x1="438.10" y1="223.70" x2="438.10" y2="229.33" stroke="#8e1e2c" stroke-width="1.3" />
<line x1="440.66" y1="223.93" x2="440.66" y2="229.76" stroke="#8e1e2c" stroke-width="1.3" />
<line x1="445.48" y1="224.83" x2="445.48" y2="230.62" stroke="#8e1e2c" stroke-width="1.3" />
<line x1="451.00" y1="226.38" x2="451.00" y2="231.78" stroke="#8e1e2c" stroke-width="1.3" />
<line x1="454.96" y1="226.36" x2="454.96" y2="232.10" stroke="#8e1e2c" stroke-width="1.3" />
<line x1="460.48" y1="227.15" x2="460.48" y2="232.66" stroke="#8e1e2c" stroke-width="1.3" />
<line x1="465.99" y1="228.75" x2="465.99" y2="234.44" stroke="#8e1e2c" stroke-width="1.3" />
<line x1="473.00" y1="230.52" x2="473.00" y2="235.52" stroke="#8e1e2c" stroke-width="1.3" />
<line x1="480.60" y1="230.85" x2="480.60" y2="235.85" stroke="#8e1e2c" stroke-width="1.3" />
<line x1="482.40" y1="230.86" x2="482.40" y2="235.86" stroke="#8e1e2c" stroke-width="1.3" />
<line x1="487.70" y1="230.91" x2="487.70" y2="235.91" stroke="#8e1e2c" stroke-width="1.3" />
<line x1="496.10" y1="230.98" x2="496.10" y2="235.98" stroke="#8e1e2c" stroke-width="1.3" />
<line x1="446.40" y1="296.10" x2="461.70" y2="296.10" stroke="#4272ab" stroke-width="1.9" />
<line x1="446.40" y1="306.80" x2="461.70" y2="306.80" stroke="#8e1e2c" stroke-width="1.9" />
<text x="465.80" y="299.40" font-size="8.8" fill="#222" textLength="23.90" lengthAdjust="spacingAndGlyphs" >France</text>
<text x="465.80" y="310.10" font-size="8.8" fill="#222" textLength="49.30" lengthAdjust="spacingAndGlyphs" >United States</text>
<text x="239.40" y="361.00" font-size="8.6" fill="#222" textLength="38.70" lengthAdjust="spacingAndGlyphs" >No. at risk:</text>
<text x="239.40" y="373.30" font-size="8.6" fill="#222" textLength="23.90" lengthAdjust="spacingAndGlyphs" >France</text>
<text x="239.40" y="385.40" font-size="8.6" fill="#222" textLength="14.50" lengthAdjust="spacingAndGlyphs" >USA</text>
<text x="277.70" y="373.30" font-size="8.8" fill="#222" text-anchor="middle" textLength="12.21" lengthAdjust="spacingAndGlyphs" >734</text>
<text x="277.70" y="385.40" font-size="8.8" fill="#222" text-anchor="middle" textLength="12.21" lengthAdjust="spacingAndGlyphs" >920</text>
<text x="293.38" y="373.30" font-size="8.8" fill="#222" text-anchor="middle" textLength="12.21" lengthAdjust="spacingAndGlyphs" >708</text>
<text x="293.38" y="385.40" font-size="8.8" fill="#222" text-anchor="middle" textLength="12.21" lengthAdjust="spacingAndGlyphs" >883</text>
<text x="309.06" y="373.30" font-size="8.8" fill="#222" text-anchor="middle" textLength="12.21" lengthAdjust="spacingAndGlyphs" >678</text>
<text x="309.06" y="385.40" font-size="8.8" fill="#222" text-anchor="middle" textLength="12.21" lengthAdjust="spacingAndGlyphs" >854</text>
<text x="324.74" y="373.30" font-size="8.8" fill="#222" text-anchor="middle" textLength="12.21" lengthAdjust="spacingAndGlyphs" >622</text>
<text x="324.74" y="385.40" font-size="8.8" fill="#222" text-anchor="middle" textLength="12.21" lengthAdjust="spacingAndGlyphs" >800</text>
<text x="340.42" y="373.30" font-size="8.8" fill="#222" text-anchor="middle" textLength="12.21" lengthAdjust="spacingAndGlyphs" >568</text>
<text x="340.42" y="385.40" font-size="8.8" fill="#222" text-anchor="middle" textLength="12.21" lengthAdjust="spacingAndGlyphs" >707</text>
<text x="356.10" y="373.30" font-size="8.8" fill="#222" text-anchor="middle" textLength="12.21" lengthAdjust="spacingAndGlyphs" >501</text>
<text x="356.10" y="385.40" font-size="8.8" fill="#222" text-anchor="middle" textLength="12.21" lengthAdjust="spacingAndGlyphs" >598</text>
<text x="371.78" y="373.30" font-size="8.8" fill="#222" text-anchor="middle" textLength="12.21" lengthAdjust="spacingAndGlyphs" >431</text>
<text x="371.78" y="385.40" font-size="8.8" fill="#222" text-anchor="middle" textLength="12.21" lengthAdjust="spacingAndGlyphs" >499</text>
<text x="387.46" y="373.30" font-size="8.8" fill="#222" text-anchor="middle" textLength="12.21" lengthAdjust="spacingAndGlyphs" >359</text>
<text x="387.46" y="385.40" font-size="8.8" fill="#222" text-anchor="middle" textLength="12.21" lengthAdjust="spacingAndGlyphs" >400</text>
<text x="403.14" y="373.30" font-size="8.8" fill="#222" text-anchor="middle" textLength="12.21" lengthAdjust="spacingAndGlyphs" >302</text>
<text x="403.14" y="385.40" font-size="8.8" fill="#222" text-anchor="middle" textLength="12.21" lengthAdjust="spacingAndGlyphs" >305</text>
<text x="418.82" y="373.30" font-size="8.8" fill="#222" text-anchor="middle" textLength="12.21" lengthAdjust="spacingAndGlyphs" >225</text>
<text x="418.82" y="385.40" font-size="8.8" fill="#222" text-anchor="middle" textLength="12.21" lengthAdjust="spacingAndGlyphs" >247</text>
<text x="434.50" y="373.30" font-size="8.8" fill="#222" text-anchor="middle" textLength="12.21" lengthAdjust="spacingAndGlyphs" >172</text>
<text x="434.50" y="385.40" font-size="8.8" fill="#222" text-anchor="middle" textLength="12.21" lengthAdjust="spacingAndGlyphs" >176</text>
<text x="450.18" y="373.30" font-size="8.8" fill="#222" text-anchor="middle" textLength="12.21" lengthAdjust="spacingAndGlyphs" >115</text>
<text x="450.18" y="385.40" font-size="8.8" fill="#222" text-anchor="middle" textLength="12.21" lengthAdjust="spacingAndGlyphs" >118</text>
<text x="465.86" y="373.30" font-size="8.8" fill="#222" text-anchor="middle" textLength="8.14" lengthAdjust="spacingAndGlyphs" >82</text>
<text x="465.86" y="385.40" font-size="8.8" fill="#222" text-anchor="middle" textLength="8.14" lengthAdjust="spacingAndGlyphs" >65</text>
</g>
</svg>
</body></html>
